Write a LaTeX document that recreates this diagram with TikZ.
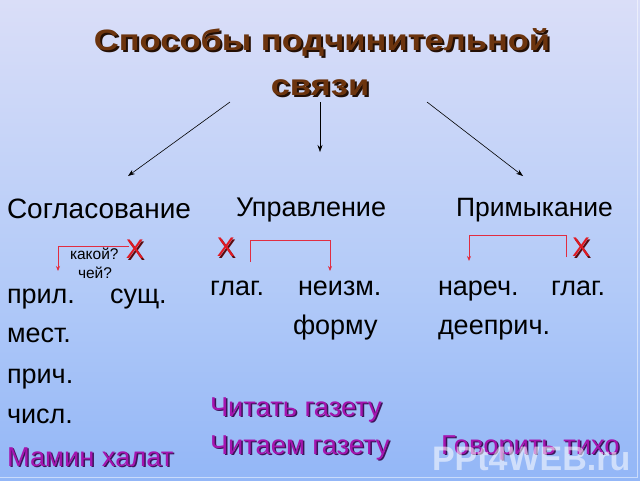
\documentclass[tikz,border=0pt]{standalone}
\usepackage{fontspec}
\setmainfont{Liberation Sans}
\newfontfamily\titlefont[FakeStretch=1.17]{Liberation Sans Bold}
\usetikzlibrary{arrows.meta}
\definecolor{bgtop}{RGB}{248,236,246}
\definecolor{bgup}{RGB}{222,224,248}
\definecolor{bgmid}{RGB}{178,202,248}
\definecolor{bgbot}{RGB}{108,158,245}
\definecolor{titlec}{RGB}{108,52,14}
\definecolor{titlesh}{RGB}{35,15,5}
\definecolor{exc}{RGB}{165,20,175}
\definecolor{exsh}{RGB}{60,20,90}
\definecolor{redc}{RGB}{225,25,35}
\definecolor{redsh}{RGB}{90,10,15}
\definecolor{brk}{RGB}{225,45,65}
\pgfdeclareverticalshading{bgshade}{100bp}{color(0bp)=(bgbot); color(45bp)=(bgmid); color(78bp)=(bgup); color(100bp)=(bgtop)}
% text with a drop shadow, in one box
\newcommand{\shadowed}[3]{\makebox[0pt][l]{\hspace{#2}\raisebox{-#2}{\textcolor{#1}{#3}}}#3}
\begin{document}
\begin{tikzpicture}[x=1pt,y=-1pt,
  every node/.style={inner sep=0pt,outer sep=0pt,anchor=base west},
  titlef/.style={font=\titlefont\fontsize{29.5}{32}\selectfont,text=titlec},
  headf/.style={font=\fontsize{26.5}{30}\selectfont,text=black},
  wordf/.style={font=\fontsize{27}{30}\selectfont,text=black},
  smallf/.style={font=\fontsize{15.5}{18}\selectfont,text=black},
  exf/.style={font=\fontsize{27.3}{30}\selectfont,text=exc},
  xf/.style={font=\fontsize{27}{30}\selectfont,text=redc,anchor=center},
  pointer/.style={draw=black,line width=0.6pt,-{Stealth[length=7pt,width=5pt]}},
  bracket/.style={draw=brk,line width=0.8pt,-{Stealth[length=5pt,width=4pt]}}
]
\useasboundingbox (0,0) rectangle (640,480);
\shade[shading=bgshade] (0,0) rectangle (640,480);
\draw[white,opacity=0.5,line width=1pt] (637,0) -- (637,477) -- (0,477);

% title
\node[titlef,anchor=base] (t1) at (322,50) {\shadowed{titlesh}{2pt}{Способы подчинительной}};
\node[titlef,anchor=base] (t2) at (320,95) {\shadowed{titlesh}{2pt}{связи}};

% pointer arrows
\coordinate (p1s) at (230,102); \coordinate (p1e) at (128,176);
\coordinate (p2s) at (320,102); \coordinate (p2e) at (320,152);
\coordinate (p3s) at (427,102); \coordinate (p3e) at (523,176);
\draw[pointer] (p1s) -- (p1e);
\draw[pointer] (p2s) -- (p2e);
\draw[pointer] (p3s) -- (p3e);

% headings
\node[headf,font=\fontsize{28}{30}\selectfont] (h1) at (7,218) {Согласование};
\node[headf,font=\fontsize{27}{30}\selectfont] (h2) at (236,216) {Управление};
\node[headf] (h3) at (456,216) {Примыкание};

% red X marks
\node[xf] (x1) at (135,250) {\shadowed{redsh}{1.5pt}{X}};
\node[xf] (x2) at (226,248) {\shadowed{redsh}{1.5pt}{X}};
\node[xf] (x3) at (581,248) {\shadowed{redsh}{1.5pt}{X}};

% brackets
\coordinate (b1a) at (129,246); \coordinate (b1b) at (58,271);
\draw[bracket] (b1a) -| (b1b);
\coordinate (b2a) at (250,262); \coordinate (b2m) at (250,240); \coordinate (b2b) at (330,271);
\draw[bracket] (b2a) -- (b2m) -| (b2b);
\coordinate (b3a) at (566,257); \coordinate (b3m) at (566,235); \coordinate (b3b) at (469,261);
\draw[bracket] (b3a) -- (b3m) -| (b3b);

% small questions
\node[smallf] (q1) at (70,259) {какой?};
\node[smallf] (q2) at (78,278) {чей?};

% column 1
\node[wordf] (c1a) at (7,303) {прил.};
\node[wordf] (c1b) at (110,303) {сущ.};
\node[wordf] (c1c) at (7,342) {мест.};
\node[wordf] (c1d) at (7,383) {прич.};
\node[wordf] (c1e) at (7,423) {числ.};
\node[exf] (e1) at (7,466) {\shadowed{exsh}{1.5pt}{Мамин халат}};

% column 2
\node[wordf] (c2a) at (210,295) {глаг.};
\node[wordf] (c2b) at (298,295) {неизм.};
\node[wordf] (c2c) at (293,334) {форму};
\node[exf] (e2) at (210,416) {\shadowed{exsh}{1.5pt}{Читать газету}};
\node[exf] (e3) at (210,454) {\shadowed{exsh}{1.5pt}{Читаем газету}};

% column 3
\node[wordf] (c3a) at (438,295) {нареч.};
\node[wordf] (c3b) at (551,295) {глаг.};
\node[wordf] (c3c) at (438,334) {дееприч.};
\node[exf] (e4) at (441,454) {\shadowed{exsh}{1.5pt}{Говорить тихо}};

% watermark
\node[font=\bfseries\fontsize{34}{36}\selectfont,text=white,opacity=0.55] (wm) at (432,470) {PPt4WEB.ru};
\end{tikzpicture}
\end{document}
